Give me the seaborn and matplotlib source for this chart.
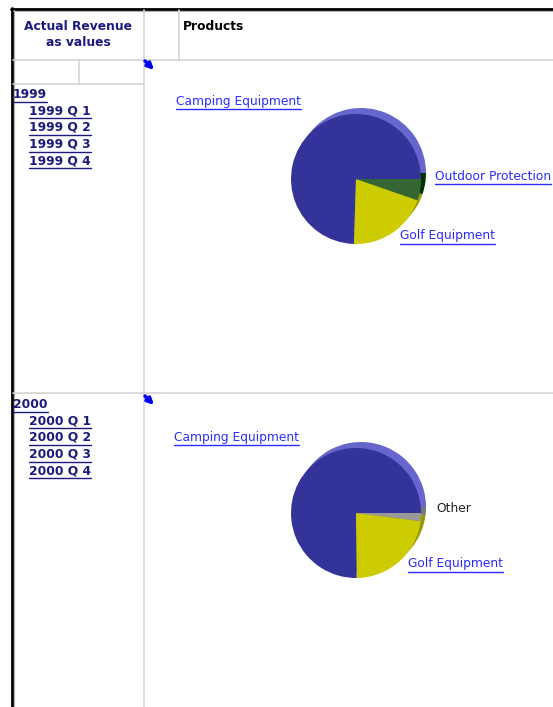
import matplotlib.pyplot as plt
import seaborn as sns

sns.set_theme(style="white")
plt.rcParams['font.family'] = ['DejaVu Sans']

# Data: share of actual revenue per product line (percent)
products_1999 = ['Camping Equipment', 'Golf Equipment', 'Outdoor Protection']
share_1999 = [74.5, 20.2, 5.3]
products_2000 = ['Camping Equipment', 'Golf Equipment', 'Other']
share_2000 = [75.2, 22.8, 2.0]
years = ['1999', '2000']
quarters = ['Q 1', 'Q 2', 'Q 3', 'Q 4']

face = {'Camping Equipment': '#333399', 'Golf Equipment': '#cccc00',
        'Outdoor Protection': '#336633', 'Other': '#999999'}
side = {'Camping Equipment': '#6666cc', 'Golf Equipment': '#999900',
        'Outdoor Protection': '#003300', 'Other': '#777777'}

W, H = 553, 707
fig = plt.figure(figsize=(W / 100, H / 100), dpi=100)
ax = fig.add_axes([0, 0, 1, 1])
ax.set_xlim(0, W)
ax.set_ylim(H, 0)
ax.axis('off')
renderer = fig.canvas.get_renderer()

grid = '#d4d4d4'
navy = '#1a1a80'
link = '#2b2bff'
FS = 8.8

# table frame
ax.plot([11.5, 11.5], [8, H], color='black', lw=2)
ax.plot([11, W], [8.5, 8.5], color='black', lw=2)
ax.plot([13.5, 13.5], [10, H], color='#b0b0b0', lw=0.8)
ax.plot([13, W], [10.5, 10.5], color='#b0b0b0', lw=0.8)
ax.plot([143.5, 143.5], [10, H], color=grid, lw=1.2)
ax.plot([178.5, 178.5], [10, 60], color=grid, lw=1.2)
ax.plot([13, W], [60, 60], color=grid, lw=1.2)
ax.plot([13, 143], [84, 84], color=grid, lw=1.2)
ax.plot([78.5, 78.5], [60, 84], color=grid, lw=1.2)
ax.plot([13, W], [393, 393], color=grid, lw=1.2)

# header texts
ax.text(78, 27, 'Actual Revenue', ha='center', va='center', fontsize=FS,
        fontweight='bold', color=navy)
ax.text(78, 43, 'as values', ha='center', va='center', fontsize=FS,
        fontweight='bold', color=navy)
ax.text(183, 27, 'Products', ha='left', va='center', fontsize=FS,
        fontweight='bold', color='black')


def link_text(x, y, s, color, bold=False, underline=True):
    t = ax.text(x, y, s, ha='left', va='center', fontsize=FS, color=color,
                fontweight='bold' if bold else 'normal')
    if underline:
        w = t.get_window_extent(renderer=renderer).width
        ax.plot([x, x + w], [y + 7.5, y + 7.5], color=color, lw=1)
    return t


# row headers
for yr, y0, ya in zip(years, [94, 404], [61, 396]):
    link_text(13, y0, yr, navy, bold=True)
    for i, q in enumerate(quarters):
        link_text(29, y0 + 16.7 * (i + 1), f'{yr} {q}', navy, bold=True)
    ax.annotate('', xy=(154, ya + 9), xytext=(145, ya),
                arrowprops=dict(arrowstyle='-|>', color='#0000ee', lw=2.5,
                                mutation_scale=9, shrinkA=0, shrinkB=0))


def draw_pie(cx, cy, labels, values):
    size = 170
    pax = fig.add_axes([(cx - size / 2) / W, 1 - (cy + size / 2) / H,
                        size / W, size / H])
    pax.pie(values, colors=[side[l] for l in labels], radius=65,
            center=(5, 6), startangle=0, counterclock=True,
            wedgeprops=dict(linewidth=0))
    pax.pie(values, colors=[face[l] for l in labels], radius=65,
            center=(0, 0), startangle=0, counterclock=True,
            wedgeprops=dict(linewidth=0))
    pax.set_xlim(-size / 2, size / 2)
    pax.set_ylim(-size / 2, size / 2)
    pax.set_aspect('equal')
    pax.axis('off')


draw_pie(356, 179, products_1999, share_1999)
draw_pie(356, 513, products_2000, share_2000)

# pie labels
link_text(176, 101, 'Camping Equipment', link)
link_text(435, 176, 'Outdoor Protection', link)
link_text(400, 236, 'Golf Equipment', link)
link_text(174, 437, 'Camping Equipment', link)
link_text(436, 508, 'Other', '#222222', underline=False)
link_text(408, 564, 'Golf Equipment', link)

fig.savefig('out.png', dpi=100)
